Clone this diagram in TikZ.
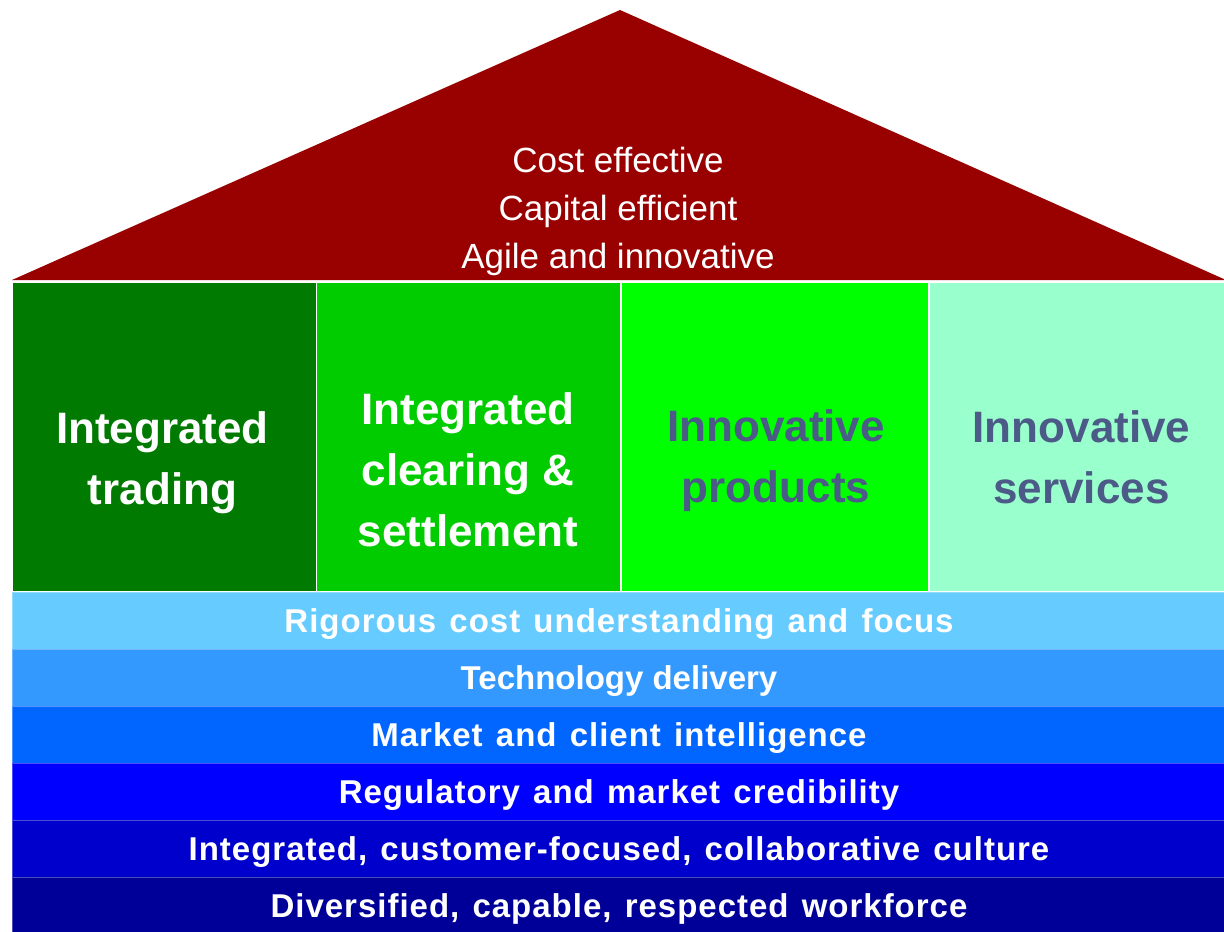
\documentclass[tikz,border=0pt]{standalone}
\usepackage{fontspec}
\setmainfont{Liberation Sans}
\newfontfamily\bandfont{Liberation Sans}[LetterSpace=3,WordSpace=1.3]

\definecolor{roofred}{HTML}{990000}
\definecolor{darkgreen}{HTML}{007A00}
\definecolor{midgreen}{HTML}{00CC00}
\definecolor{brightgreen}{HTML}{00FF00}
\definecolor{mintgreen}{HTML}{99FFCC}
\definecolor{slatetext}{RGB}{75,90,135}
\definecolor{bandA}{HTML}{66CCFF}
\definecolor{bandB}{HTML}{3399FF}
\definecolor{bandC}{HTML}{0066FF}
\definecolor{bandD}{HTML}{0000FF}
\definecolor{bandE}{HTML}{0000CC}
\definecolor{bandF}{HTML}{000099}

\tikzset{
  pillar/.style={fill=#1, draw=white, line width=0.75pt, inner sep=0pt, outer sep=0pt,
    minimum height=155pt},
  pillartext/.style={align=center, inner sep=0pt, font=\fontsize{22}{30.5}\selectfont\bfseries},
  band/.style={fill=#1, draw=white, draw opacity=0.3, line width=0.5pt, inner sep=0pt,
    outer sep=0pt, minimum width=607pt, minimum height=28.5pt, text=white,
    text height=11.8pt, text depth=0pt, font=\fontsize{16.5}{20}\selectfont\bfseries\bandfont}
}

\begin{document}
\begin{tikzpicture}[x=0.5pt,y=-0.5pt]
\useasboundingbox (0,0) rectangle (1224,931);

% roof
\fill[roofred] (12,280) -- (620,10) -- (1226,280) -- cycle;
\node[align=center, inner sep=0pt, text=white, font=\fontsize{17.5}{24}\selectfont] (roof) at (618,211)
  {Cost effective\\Capital efficient\\Agile and innovative};

% pillars
\node[pillar=darkgreen, minimum width=152.25pt] (trading) at (164.25,437) {};
\node[pillar=midgreen, minimum width=152.25pt] (clearing) at (468.75,437) {};
\node[pillar=brightgreen, minimum width=154pt] (products) at (775,437) {};
\node[pillar=mintgreen, minimum width=148.5pt] (services) at (1077.5,437) {};

\node[pillartext, text=white] (tradinglabel) at (162.5,463) {Integrated\\trading};
\node[pillartext, text=white] (clearinglabel) at (468,470) {Integrated\\clearing \&\\settlement};
\node[pillartext, text=slatetext] (productslabel) at (776,461) {Innovative\\products};
\node[pillartext, text=slatetext] (serviceslabel) at (1081.5,457) {Innovative\\services};

% foundation bands
\node[band=bandA] (cost) at (619,620.5) {Rigorous cost understanding and focus};
\node[band=bandB, font=\fontsize{16.5}{20}\selectfont\bfseries] (tech) at (619,677.5) {Technology delivery};
\node[band=bandC] (intel) at (619,734.5) {Market and client intelligence};
\node[band=bandD] (credib) at (619,791.5) {Regulatory and market credibility};
\node[band=bandE] (culture) at (619,848.5) {Integrated, customer-focused, collaborative culture};
\node[band=bandF] (workforce) at (619,905.5) {Diversified, capable, respected workforce};
\end{tikzpicture}
\end{document}
